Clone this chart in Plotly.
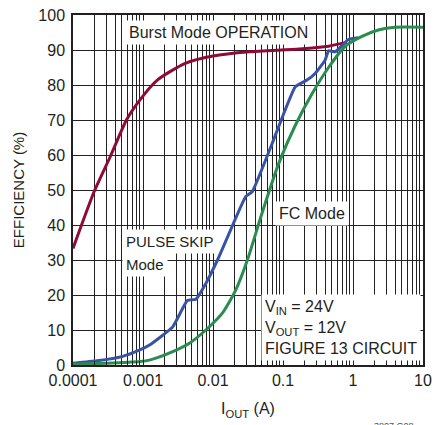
import plotly.graph_objects as go

# ---- data ----
burst_x = [0.0001, 0.0002, 0.00034, 0.00058, 0.0009, 0.0016, 0.004, 0.01, 0.033, 0.17, 0.45, 0.77]
burst_y = [33.3, 49.5, 59.5, 70.0, 75.7, 81.4, 86.2, 88.3, 89.5, 90.3, 91.1, 92.1]

pskip_x = [0.0001, 0.00022, 0.0005, 0.0009, 0.00124, 0.00266, 0.0043, 0.0057, 0.0079, 0.0116,
           0.017, 0.0293, 0.0363, 0.07, 0.15, 0.22, 0.288, 0.4, 0.447, 0.557, 0.86, 1.2]
pskip_y = [0.5, 1.2, 2.4, 4.3, 5.7, 10.9, 18.4, 18.8, 23.3, 30.0,
           37.6, 48.1, 49.5, 63.3, 79.5, 81.4, 83.3, 87.1, 89.8, 89.5, 93.0, 93.5]

fc_x = [0.0001, 0.0003, 0.0009, 0.00124, 0.00266, 0.0046, 0.0079, 0.0136, 0.0211, 0.031,
        0.05, 0.087, 0.15, 0.26, 0.447, 0.77, 1.32, 2.3, 4.0, 10.0]
fc_y = [0.2, 0.5, 1.0, 1.4, 3.8, 6.2, 10.0, 14.8, 21.4, 30.0,
        43.3, 57.6, 68.5, 77.5, 85.0, 91.0, 93.8, 95.7, 96.5, 96.5]

x_tickvals = [0.0001, 0.001, 0.01, 0.1, 1, 10]
x_ticktext = ["0.0001", "0.001", "0.01", "0.1", "1", "10"]
y_tickvals = [0, 10, 20, 30, 40, 50, 60, 70, 80, 90, 100]

RED = "#8E0B35"
BLUE = "#3953A4"
GREEN = "#2A8C4F"
INK = "#231F20"
FONT = "Liberation Sans, Arial, sans-serif"

fig = go.Figure()
fig.add_trace(go.Scatter(x=burst_x, y=burst_y, mode="lines",
                         line=dict(color=RED, width=3, shape="spline", smoothing=0.6)))
fig.add_trace(go.Scatter(x=pskip_x, y=pskip_y, mode="lines",
                         line=dict(color=BLUE, width=3, shape="spline", smoothing=0.4)))
fig.add_trace(go.Scatter(x=fc_x, y=fc_y, mode="lines",
                         line=dict(color=GREEN, width=3, shape="spline", smoothing=0.6)))

ann_font = dict(family=FONT, size=16, color=INK)
small_font = dict(family=FONT, size=15, color=INK)
annotations = [
    dict(x=-3.26, y=94.9, xref="x", yref="y", text="Burst Mode OPERATION",
         xanchor="left", yanchor="middle", showarrow=False, bgcolor="white",
         borderpad=3, font=ann_font),
    dict(x=-3.30, y=35.2, xref="x", yref="y", text="PULSE SKIP",
         xanchor="left", yanchor="middle", showarrow=False, bgcolor="white",
         borderpad=3, font=small_font),
    dict(x=-3.30, y=28.6, xref="x", yref="y", text="Mode",
         xanchor="left", yanchor="middle", showarrow=False, bgcolor="white",
         borderpad=3, font=small_font),
    dict(x=-1.12, y=43.4, xref="x", yref="y", text="FC Mode",
         xanchor="left", yanchor="middle", showarrow=False, bgcolor="white",
         borderpad=3, font=ann_font),
    dict(x=-1.32, y=1.2, xref="x", yref="y",
         text="V<sub>IN</sub> = 24V<br>V<sub>OUT</sub> = 12V<br>FIGURE 13 CIRCUIT",
         xanchor="left", yanchor="bottom", showarrow=False, bgcolor="white",
         align="left", borderpad=3, font=ann_font),
    dict(x=0.98, y=-0.154, xref="paper", yref="paper", text="3807 G08",
         xanchor="right", yanchor="top", showarrow=False,
         font=dict(family=FONT, size=9, color="#555555")),
]

fig.update_layout(
    width=435, height=425,
    margin=dict(l=73, r=10, t=15, b=60),
    paper_bgcolor="white", plot_bgcolor="white",
    showlegend=False,
    font=dict(family=FONT, size=16, color=INK),
    annotations=annotations,
)

fig.update_xaxes(
    type="log", range=[-4, 1], automargin="height",
    tickvals=x_tickvals, ticktext=x_ticktext,
    tickfont=dict(family=FONT, size=16, color=INK),
    showgrid=True, gridcolor="#222222", gridwidth=1,
    ticks="inside", ticklen=5, tickcolor=INK,
    minor=dict(dtick="D1", showgrid=True, gridcolor="#222222", gridwidth=1,
               ticks="inside", ticklen=4, tickcolor=INK),
    showline=True, linecolor=INK, linewidth=1.5, mirror="ticks",
    zeroline=False,
    title=dict(text="I<sub>OUT</sub> (A)", font=dict(family=FONT, size=16, color=INK), standoff=15),
)
fig.update_yaxes(
    range=[0, 100], tickvals=y_tickvals, automargin="width",
    tickfont=dict(family=FONT, size=16, color=INK), ticklabelstandoff=3,
    showgrid=True, gridcolor="#222222", gridwidth=1,
    ticks="", showline=True, linecolor=INK, linewidth=1.5, mirror=True,
    zeroline=False,
    title=dict(text="EFFICIENCY (%)", font=dict(family=FONT, size=15, color=INK), standoff=10),
)

fig.write_html("out.html", config={"displayModeBar": False},
               post_script="document.body.style.margin='0';document.body.style.padding='0';")
